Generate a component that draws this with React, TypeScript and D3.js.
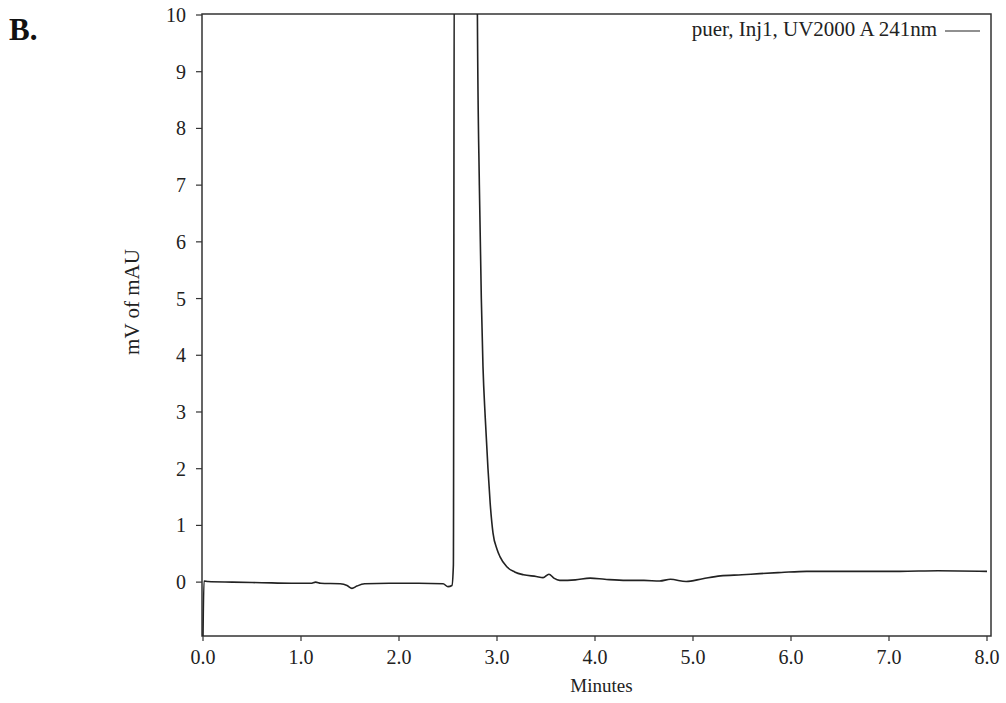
import React from "react";
import * as d3 from "d3";

// chromatogram trace (minutes, mV)
const times = [
  0, 0.01, 0.05, 0.3, 0.6, 0.9, 1.1, 1.15, 1.2, 1.4, 1.47, 1.52, 1.57, 1.65, 1.9, 2.2, 2.45, 2.5, 2.54,
  2.555, 2.565, 2.795, 2.8, 2.82, 2.84, 2.857, 2.88, 2.908, 2.93, 2.959, 3.0, 3.03, 3.1, 3.18, 3.27,
  3.4, 3.47, 3.53, 3.58, 3.64, 3.8, 3.95, 4.1, 4.32, 4.5, 4.66, 4.77, 4.93, 5.1, 5.28, 5.5, 5.68, 5.9,
  6.16, 6.5, 7.11, 7.5, 8.0,
];
const signal = [
  -0.95, 0.02, 0.01, 0.0, -0.01, -0.02, -0.02, 0.0, -0.02, -0.03, -0.06, -0.11, -0.07, -0.03, -0.02, -0.02, -0.03, -0.08, -0.06,
  0.3, 12, 12, 10, 7, 5, 3.8, 2.9, 2.0, 1.4, 0.87, 0.58, 0.45, 0.27, 0.18, 0.13,
  0.1, 0.08, 0.14, 0.07, 0.03, 0.04, 0.07, 0.05, 0.03, 0.03, 0.02, 0.05, 0.01, 0.06, 0.11, 0.13, 0.15, 0.17,
  0.19, 0.19, 0.19, 0.2, 0.19,
];
const xTicks = [0, 1, 2, 3, 4, 5, 6, 7, 8];
const yTicks = [0, 1, 2, 3, 4, 5, 6, 7, 8, 9, 10];
const seriesName = "puer, Inj1, UV2000 A 241nm";

const W = 1006;
const H = 703;
const font = "'Liberation Serif', 'Times New Roman', serif";

export default function App() {
  const x = d3.scaleLinear().domain([0, 8]).range([203, 987]);
  const y = d3.scaleLinear().domain([-0.95, 10]).range([636, 15]);

  const boxLeft = 202;
  const boxRight = 991;
  const boxTop = y(10) - 1;
  const boxBottom = y(-0.95);

  const line = d3
    .line<number>()
    .x((_, i) => x(times[i]))
    .y(d => y(d))
    .curve(d3.curveMonotoneX);

  const fmt = d3.format(".1f");

  return (
    <svg width={W} height={H} style={{ position: "absolute", left: 0, top: 0, background: "#fff" }}>
      <defs>
        <clipPath id="plotClip">
          <rect x={boxLeft} y={boxTop} width={boxRight - boxLeft} height={boxBottom - boxTop} />
        </clipPath>
      </defs>

      <text x={9} y={40} fontFamily={font} fontSize={31} fontWeight="bold" fill="#111">
        B.
      </text>

      {/* frame */}
      <rect
        x={boxLeft}
        y={boxTop}
        width={boxRight - boxLeft}
        height={boxBottom - boxTop}
        fill="none"
        stroke="#333"
        strokeWidth={1.5}
      />

      {/* y axis */}
      {yTicks.map(t => (
        <g key={"y" + t}>
          <line x1={boxLeft - 6} x2={boxLeft} y1={y(t)} y2={y(t)} stroke="#333" strokeWidth={1.2} />
          <text
            x={186}
            y={y(t)}
            dy="0.35em"
            textAnchor="end"
            fontFamily={font}
            fontSize={20}
            fill="#222"
          >
            {t}
          </text>
        </g>
      ))}

      {/* x axis */}
      {xTicks.map(t => (
        <g key={"x" + t}>
          <line x1={x(t)} x2={x(t)} y1={boxBottom} y2={boxBottom + 5} stroke="#333" strokeWidth={1.2} />
          <text
            x={x(t)}
            y={664}
            textAnchor="middle"
            fontFamily={font}
            fontSize={20}
            fill="#222"
          >
            {fmt(t)}
          </text>
        </g>
      ))}

      <text x={(boxLeft + boxRight) / 2 + 5} y={692} textAnchor="middle" fontFamily={font} fontSize={19} fill="#222">
        Minutes
      </text>
      <text
        transform={`translate(139, 302) rotate(-90)`}
        textAnchor="middle"
        fontFamily={font}
        fontSize={21}
        fill="#222"
      >
        mV of mAU
      </text>

      {/* legend */}
      <text x={937} y={36} textAnchor="end" fontFamily={font} fontSize={21} fill="#222">
        {seriesName}
      </text>
      <line x1={945} x2={980} y1={31} y2={31} stroke="#222" strokeWidth={1.2} />

      {/* trace */}
      <path
        d={line(signal) || ""}
        fill="none"
        stroke="#222"
        strokeWidth={1.6}
        strokeLinejoin="round"
        clipPath="url(#plotClip)"
      />
    </svg>
  );
}
